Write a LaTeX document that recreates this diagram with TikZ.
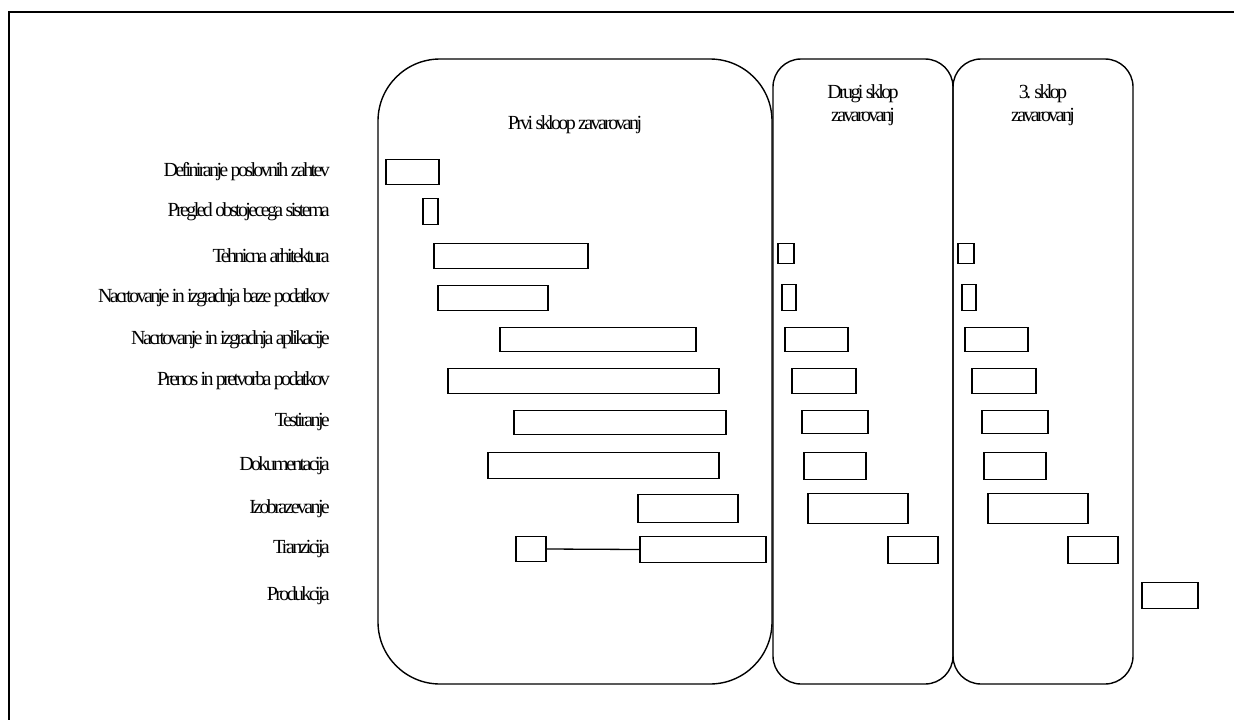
\documentclass[tikz,border=0pt]{standalone}
\usepackage{fontspec}
\setmainfont{Liberation Serif}[LetterSpace=-13.2]
\usetikzlibrary{positioning}

\begin{document}
\begin{tikzpicture}[x=1pt, y=-1pt, font=\fontsize{20}{23}\selectfont]
\tikzstyle{outer} = [draw, line width=2pt]
\tikzstyle{sklop} = [rectangle, draw, line width=1.4pt, inner sep=0pt]
\tikzstyle{bar} = [rectangle, draw, line width=1.7pt, inner sep=0pt, anchor=west]
\tikzstyle{task} = [anchor=east, inner sep=0pt]
\tikzstyle{title} = [align=center, inner sep=0pt]
\tikzstyle{link} = [draw, line width=1.3pt]

\useasboundingbox (0,0) rectangle (1234,720);
\draw [outer] (9,12) rectangle (1260,750);

% sklopi
\node (sklop1) [sklop, rounded corners=62pt, minimum width=394, minimum height=625] at (575,371.5) {};
\node (sklop2) [sklop, rounded corners=28pt, minimum width=180, minimum height=625] at (863,371.5) {};
\node (sklop3) [sklop, rounded corners=28pt, minimum width=180, minimum height=625] at (1043,371.5) {};
\node (naslov1) [title, below=57pt of sklop1.north] {Prvi skloop zavarovanj};
\node (naslov2) [title, below=26pt of sklop2.north] {Drugi sklop\\zavarovanj};
\node (naslov3) [title, below=26pt of sklop3.north] {3. sklop\\zavarovanj};

% aktivnosti
\node (def) [task] at (330,172) {Definiranje poslovnih zahtev};
\node (pregled) [task] at (330,211.5) {Pregled obstojecega sistema};
\node (teh) [task] at (330,256) {Tehnicna arhitektura};
\node (baze) [task] at (330,298) {Nacrtovanje in izgradnja baze podatkov};
\node (apl) [task] at (330,339.5) {Nacrtovanje in izgradnja aplikacije};
\node (prenos) [task] at (330,381) {Prenos in pretvorba podatkov};
\node (test) [task] at (330,422.5) {Testiranje};
\node (dok) [task] at (330,465.5) {Dokumentacija};
\node (izo) [task] at (330,508.5) {Izobrazevanje};
\node (tran) [task] at (330,549.5) {Tranzicija};
\node (prod) [task] at (330,595.5) {Produkcija};

% prvi sklop
\node (def1) [bar, minimum width=53, minimum height=25] at (385,172) {};
\node (pregled1) [bar, minimum width=15, minimum height=26] at (422,211.5) {};
\node (teh1) [bar, minimum width=154, minimum height=25] at (433,256) {};
\node (baze1) [bar, minimum width=110, minimum height=25] at (437,298) {};
\node (apl1) [bar, minimum width=196, minimum height=24] at (499,339.5) {};
\node (prenos1) [bar, minimum width=271, minimum height=25] at (447,381) {};
\node (test1) [bar, minimum width=212, minimum height=24] at (513,422.5) {};
\node (dok1) [bar, minimum width=231, minimum height=26] at (487,465.5) {};
\node (izo1) [bar, minimum width=100, minimum height=28] at (637,508.5) {};
\node (tran1a) [bar, minimum width=30, minimum height=25] at (515,549) {};
\node (tran1b) [bar, minimum width=126, minimum height=26] at (639,549.5) {};

% drugi sklop
\node (teh2) [bar, minimum width=16, minimum height=20] at (777,253.5) {};
\node (baze2) [bar, minimum width=14, minimum height=26] at (781,297.5) {};
\node (apl2) [bar, minimum width=63, minimum height=24] at (784,339.5) {};
\node (prenos2) [bar, minimum width=64, minimum height=25] at (791,381) {};
\node (test2) [bar, minimum width=66, minimum height=23] at (801,422) {};
\node (dok2) [bar, minimum width=62, minimum height=27] at (803,466) {};
\node (izo2) [bar, minimum width=100, minimum height=30] at (807,508.5) {};
\node (tran2) [bar, minimum width=50, minimum height=27] at (887,550) {};

% 3. sklop
\node (teh3) [bar, minimum width=16, minimum height=20] at (957,253.5) {};
\node (baze3) [bar, minimum width=14, minimum height=26] at (961,297.5) {};
\node (apl3) [bar, minimum width=63, minimum height=24] at (964,339.5) {};
\node (prenos3) [bar, minimum width=64, minimum height=25] at (971,381) {};
\node (test3) [bar, minimum width=66, minimum height=23] at (981,422) {};
\node (dok3) [bar, minimum width=62, minimum height=27] at (983,466) {};
\node (izo3) [bar, minimum width=100, minimum height=30] at (987,508.5) {};
\node (tran3) [bar, minimum width=50, minimum height=27] at (1067,550) {};
\node (prod3) [bar, minimum width=56, minimum height=26] at (1141,595.5) {};

\draw [link] (tran1a.east) -- (tran1b.west);
\end{tikzpicture}
\end{document}
